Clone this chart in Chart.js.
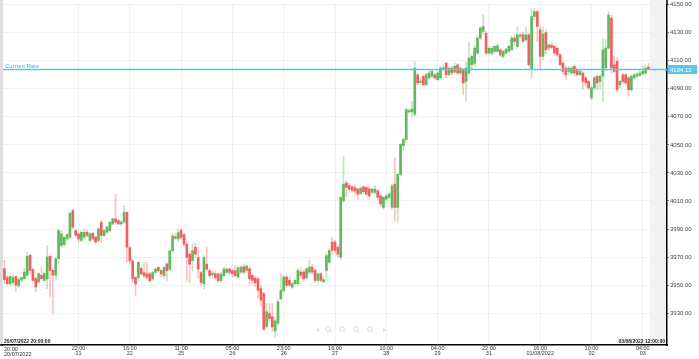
<!DOCTYPE html>
<html>
<head>
<meta charset="utf-8">
<script src="https://cdn.jsdelivr.net/npm/chart.js@4/dist/chart.umd.min.js"></script>
<style>
  html, body { margin: 0; padding: 0; background: #fff; }
  #wrap { width: 699px; height: 359px; position: relative; }
</style>
</head>
<body>
<div id="wrap"><canvas id="rate-chart" width="699" height="359"></canvas></div>
<script>
// hourly candles, 20/07/2022 20:00 .. 03/08/2022 06:00
var opens = [
  3961.7, 3955.3, 3951.1, 3952.0, 3956.0, 3949.5, 3953.5, 3954.6, 3957.0, 3971.2,
  3961.0, 3954.6, 3952.2, 3957.0, 3953.4, 3954.5, 3970.5, 3960.5, 3957.0, 3968.8,
  3978.3, 3979.0, 3983.0, 3984.2, 4003.1, 3988.9, 3986.5, 3981.8, 3984.2, 3987.7,
  3981.8, 3987.0, 3984.2, 3981.8, 3994.8, 3985.4, 3987.7, 3988.9, 3993.6, 3997.2,
  3996.0, 3993.6, 3995.0, 4001.9, 3976.8, 3967.4, 3955.5, 3955.5, 3962.0, 3959.0,
  3958.0, 3957.9, 3954.4, 3959.0, 3962.6, 3960.3, 3956.7, 3965.0, 3961.4, 3974.5,
  3984.5, 3983.0, 3989.0, 3986.0, 3979.2, 3972.0, 3967.4, 3977.0, 3969.7, 3959.0,
  3950.8, 3965.0, 3960.3, 3957.5, 3958.0, 3957.9, 3953.2, 3956.7, 3959.0, 3961.4,
  3960.3, 3960.3, 3955.7, 3959.3, 3963.0, 3960.5, 3961.6, 3956.9, 3955.0, 3954.5,
  3947.5, 3943.9, 3920.5, 3929.7, 3927.3, 3917.3, 3922.6, 3940.3, 3946.3, 3955.7,
  3953.4, 3948.6, 3951.0, 3951.0, 3959.3, 3959.3, 3955.2, 3959.3, 3962.8, 3960.5,
  3953.4, 3958.1, 3952.2, 3960.5, 3966.4, 3980.6, 3980.6, 3977.0, 3970.0, 4010.1,
  4023.0, 4021.0, 4020.0, 4019.5, 4018.4, 4015.3, 4020.0, 4019.6, 4018.4, 4016.0,
  4016.0, 4017.2, 4013.6, 4005.4, 4011.3, 4012.5, 4005.4, 4022.0, 4005.4, 4029.0,
  4049.5, 4053.9, 4073.5, 4073.5, 4071.7, 4100.0, 4094.5, 4098.9, 4093.0, 4097.7,
  4098.9, 4100.0, 4096.5, 4097.7, 4104.0, 4108.3, 4100.0, 4104.8, 4101.9, 4107.1,
  4101.2, 4103.6, 4095.3, 4101.2, 4107.1, 4108.3, 4115.4, 4126.1, 4130.8, 4129.6,
  4115.4, 4115.4, 4116.6, 4116.6, 4117.8, 4113.1, 4115.4, 4116.6, 4117.8, 4126.1,
  4120.2, 4127.3, 4128.5, 4124.9, 4128.5, 4103.6, 4141.5, 4145.0, 4132.0, 4113.0,
  4130.0, 4119.0, 4121.0, 4120.2, 4118.9, 4114.2, 4108.3, 4104.8, 4102.4, 4101.2,
  4106.0, 4103.6, 4100.0, 4101.2, 4097.7, 4095.3, 4083.5, 4090.6, 4098.9, 4095.3,
  4098.9, 4105.0, 4119.0, 4140.3, 4107.1, 4109.5, 4093.0, 4100.0, 4100.0, 4097.7,
  4089.4, 4097.7, 4098.9, 4099.5, 4100.5, 4101.2, 4105.5
];
var highs = [
  3967.6, 3957.0, 3958.0, 3957.5, 3957.0, 3955.0, 3956.0, 3962.3, 3973.5, 3972.0,
  3962.0, 3955.5, 3959.0, 3962.9, 3959.0, 3978.3, 3972.0, 3962.0, 3970.0, 3990.1,
  3988.9, 3985.0, 3987.0, 4002.0, 4004.3, 3989.5, 3987.0, 3988.5, 3990.0, 3989.0,
  3987.5, 3988.0, 3985.0, 3991.0, 3996.0, 3990.0, 3992.0, 3995.5, 3998.0, 4014.9,
  3997.0, 3996.0, 4006.7, 4002.5, 3977.5, 3968.0, 3956.0, 3967.0, 3963.0, 3966.0,
  3966.0, 3959.0, 3960.0, 3962.5, 3963.0, 3961.0, 3963.0, 3966.0, 3975.0, 3986.5,
  3987.0, 3989.5, 3990.0, 3987.0, 3981.0, 3973.0, 3979.0, 3980.0, 3977.0, 3960.0,
  3971.0, 3977.0, 3961.0, 3960.0, 3960.0, 3958.5, 3959.0, 3963.0, 3962.0, 3962.0,
  3961.0, 3964.0, 3963.5, 3963.5, 3965.0, 3964.5, 3963.0, 3958.0, 3956.0, 3956.0,
  3950.0, 3945.0, 3936.8, 3936.8, 3936.8, 3927.0, 3940.0, 3958.1, 3957.0, 3957.5,
  3956.0, 3952.0, 3954.0, 3962.0, 3962.5, 3961.0, 3962.5, 3968.0, 3965.0, 3961.5,
  3959.0, 3959.0, 3956.0, 3972.0, 3976.0, 3984.1, 3982.0, 3978.0, 4013.0, 4042.0,
  4024.5, 4022.5, 4021.0, 4021.5, 4019.0, 4020.0, 4021.0, 4020.5, 4020.0, 4019.0,
  4021.0, 4018.0, 4014.5, 4013.5, 4014.5, 4016.0, 4022.0, 4040.9, 4030.0, 4051.0,
  4055.0, 4076.0, 4075.5, 4081.0, 4109.5, 4101.0, 4098.0, 4100.0, 4101.0, 4103.5,
  4103.0, 4101.0, 4102.0, 4106.0, 4107.0, 4109.0, 4105.5, 4106.0, 4109.0, 4108.0,
  4106.0, 4105.0, 4109.0, 4123.7, 4114.0, 4121.3, 4128.0, 4134.5, 4142.7, 4131.0,
  4120.0, 4120.0, 4121.0, 4122.0, 4119.0, 4117.5, 4119.0, 4121.0, 4127.5, 4128.0,
  4134.4, 4129.5, 4130.5, 4134.4, 4129.5, 4147.0, 4147.5, 4146.0, 4134.0, 4134.0,
  4132.0, 4122.0, 4123.0, 4121.0, 4120.0, 4115.0, 4109.0, 4106.0, 4106.0, 4106.0,
  4107.0, 4104.5, 4103.0, 4102.0, 4098.5, 4096.0, 4092.0, 4099.0, 4100.0, 4100.0,
  4126.0, 4125.0, 4145.0, 4142.6, 4113.1, 4111.9, 4096.0, 4101.0, 4101.0, 4098.5,
  4100.0, 4101.0, 4101.5, 4103.0, 4106.0, 4107.0, 4108.3
];
var lows = [
  3951.1, 3949.9, 3950.0, 3950.5, 3945.1, 3948.5, 3952.5, 3954.0, 3956.0, 3958.0,
  3952.0, 3945.1, 3951.0, 3953.5, 3952.5, 3947.5, 3941.6, 3929.8, 3953.4, 3966.0,
  3977.0, 3977.0, 3982.0, 3983.0, 3990.0, 3984.0, 3980.6, 3981.0, 3983.0, 3984.5,
  3981.0, 3982.0, 3980.0, 3981.0, 3980.6, 3984.5, 3987.0, 3988.0, 3993.0, 3994.0,
  3993.0, 3992.5, 3994.0, 3966.4, 3965.0, 3952.0, 3942.5, 3953.0, 3957.0, 3955.0,
  3954.0, 3952.0, 3953.0, 3958.5, 3959.0, 3956.0, 3955.0, 3953.0, 3960.0, 3973.0,
  3982.5, 3981.0, 3983.0, 3978.0, 3953.0, 3952.0, 3960.0, 3970.0, 3955.0, 3950.0,
  3947.3, 3960.0, 3955.0, 3955.0, 3954.0, 3952.0, 3952.0, 3956.0, 3958.5, 3957.0,
  3956.0, 3955.5, 3955.0, 3958.0, 3958.0, 3959.0, 3950.0, 3951.0, 3949.0, 3940.5,
  3935.0, 3917.5, 3919.5, 3924.0, 3917.0, 3913.1, 3921.0, 3939.0, 3945.0, 3948.0,
  3949.0, 3947.5, 3950.0, 3950.0, 3955.0, 3953.0, 3954.0, 3958.0, 3958.0, 3952.0,
  3952.0, 3952.5, 3951.5, 3953.4, 3965.0, 3972.0, 3973.0, 3969.9, 3968.0, 4009.0,
  4013.0, 4017.0, 4016.0, 4015.0, 4011.0, 4014.5, 4015.0, 4014.0, 4012.5, 4015.5,
  4015.0, 4011.0, 4006.0, 4004.0, 4010.0, 4012.0, 4004.0, 3995.9, 3995.0, 4028.0,
  4046.0, 4052.0, 4072.5, 4070.0, 4070.5, 4093.0, 4093.0, 4092.0, 4092.0, 4096.5,
  4098.0, 4097.0, 4096.0, 4097.0, 4103.0, 4097.7, 4099.0, 4100.0, 4101.0, 4100.0,
  4100.0, 4085.9, 4081.0, 4100.0, 4104.0, 4106.0, 4114.0, 4125.0, 4129.0, 4114.0,
  4114.5, 4114.0, 4115.0, 4115.5, 4113.0, 4112.0, 4114.5, 4115.5, 4117.0, 4121.0,
  4119.0, 4126.0, 4123.0, 4124.0, 4106.0, 4097.7, 4139.0, 4124.0, 4104.0, 4111.0,
  4115.0, 4117.0, 4118.0, 4114.0, 4113.0, 4106.0, 4100.0, 4096.5, 4101.0, 4100.0,
  4098.9, 4099.0, 4099.0, 4089.4, 4091.0, 4089.4, 4082.0, 4089.0, 4089.4, 4089.4,
  4081.0, 4103.0, 4118.0, 4101.2, 4101.0, 4088.0, 4090.6, 4094.0, 4093.0, 4084.7,
  4088.0, 4096.5, 4098.0, 4098.9, 4100.0, 4100.0, 4103.5
];
var closes = [
  3953.9, 3951.1, 3956.3, 3955.5, 3949.9, 3953.9, 3955.3, 3959.3, 3970.5, 3960.5,
  3953.4, 3948.7, 3958.2, 3954.6, 3958.2, 3970.0, 3960.5, 3957.0, 3968.8, 3988.9,
  3986.5, 3984.0, 3986.0, 4001.2, 3991.3, 3985.4, 3983.0, 3987.7, 3987.7, 3985.4,
  3986.5, 3983.0, 3980.6, 3990.1, 3985.4, 3988.9, 3991.3, 3994.8, 3997.2, 3994.8,
  3993.6, 3995.0, 4001.9, 3977.1, 3967.4, 3954.4, 3950.8, 3966.2, 3958.0, 3956.7,
  3955.5, 3953.2, 3959.0, 3961.4, 3960.3, 3957.9, 3962.6, 3960.3, 3974.5, 3985.1,
  3983.5, 3987.5, 3984.0, 3979.2, 3969.7, 3965.0, 3974.5, 3972.0, 3961.4, 3952.0,
  3969.7, 3961.4, 3956.7, 3958.5, 3955.5, 3953.2, 3957.9, 3961.4, 3961.4, 3959.0,
  3957.9, 3956.7, 3962.3, 3962.8, 3959.3, 3963.5, 3954.5, 3953.4, 3951.5, 3946.3,
  3939.2, 3918.5, 3930.9, 3926.2, 3920.2, 3924.6, 3938.0, 3946.3, 3955.7, 3949.8,
  3950.0, 3951.0, 3953.4, 3960.5, 3957.0, 3954.5, 3961.6, 3962.8, 3959.3, 3953.4,
  3958.1, 3953.4, 3953.9, 3971.1, 3974.7, 3974.7, 3974.7, 3972.0, 4012.5, 4022.0,
  4019.6, 4018.4, 4017.7, 4016.9, 4014.9, 4019.1, 4016.7, 4014.9, 4013.6, 4018.4,
  4018.4, 4012.5, 4007.8, 4012.5, 4013.6, 4014.9, 4020.8, 4005.4, 4029.0, 4050.4,
  4053.9, 4075.2, 4074.5, 4075.5, 4104.8, 4094.1, 4095.5, 4093.0, 4100.0, 4101.2,
  4102.4, 4097.7, 4101.2, 4104.8, 4105.0, 4100.0, 4104.8, 4101.2, 4106.0, 4101.2,
  4104.8, 4094.1, 4104.8, 4111.9, 4113.1, 4119.0, 4126.1, 4133.2, 4134.4, 4115.4,
  4118.9, 4118.9, 4120.2, 4120.6, 4114.2, 4116.6, 4118.3, 4120.2, 4126.1, 4123.7,
  4128.5, 4128.5, 4123.7, 4128.5, 4107.1, 4141.5, 4145.0, 4134.4, 4113.0, 4129.0,
  4117.8, 4121.3, 4119.5, 4115.4, 4114.2, 4107.1, 4102.4, 4100.0, 4104.8, 4104.8,
  4101.2, 4100.0, 4102.4, 4095.3, 4094.1, 4090.6, 4090.6, 4097.7, 4094.1, 4098.9,
  4117.8, 4119.0, 4142.6, 4104.8, 4102.4, 4089.4, 4095.3, 4095.3, 4094.1, 4089.4,
  4098.9, 4100.0, 4100.5, 4101.2, 4102.4, 4104.8, 4104.1
];

var currentRate = 4104.12;

// x axis labels sit on candle indexes
var xTickIdx  = [26, 44, 62, 80, 98, 116, 134, 152, 170, 188, 206, 224];
var xTickTime = ['22:00', '16:00', '11:00', '05:00', '23:00', '16:00', '10:00', '04:00', '22:00', '16:00', '10:00', '04:00'];
var xTickDate = ['21', '22', '25', '26', '26', '27', '28', '29', '31', '01/08/2022', '02', '03'];
var firstLabel = ['20:00', '20/07/2022'];
var startStamp = '20/07/2022 20:00:00';
var endStamp = '03/08/2022 12:00:00';

var yTicks = [3930, 3950, 3970, 3990, 4010, 4030, 4050, 4070, 4090, 4110, 4130, 4150];

var upBody = 'rgb(96,186,92)';
var downBody = 'rgb(240,96,96)';
var upWick = 'rgba(96,186,92,0.38)';
var downWick = 'rgba(240,96,96,0.38)';
var rateColor = '#5cc6ea';

var isUp = opens.map(function(o, i) { return closes[i] >= o; });

var decor = {
    id: 'decor',
    beforeDraw: function(chart) {
        var ctx = chart.ctx, a = chart.chartArea, xs = chart.scales.x;
        ctx.save();
        ctx.fillStyle = '#fff';
        ctx.fillRect(0, 0, chart.width, chart.height);
        // left frame band
        ctx.fillStyle = '#dedede';
        ctx.fillRect(0, 0, a.left, a.bottom);
        // future area on the right
        var fx = xs.getPixelForValue(opens.length - 0.5);
        ctx.beginPath();
        ctx.rect(fx, 0, a.right - fx, a.bottom);
        ctx.clip();
        ctx.fillStyle = '#f5f5f5';
        ctx.fillRect(fx, 0, a.right - fx, a.bottom);
        ctx.strokeStyle = '#e8e8e8';
        ctx.lineWidth = 0.6;
        ctx.beginPath();
        for (var yy = -20; yy < a.bottom + 20; yy += 3) {
            ctx.moveTo(fx, yy + 18);
            ctx.lineTo(a.right, yy);
        }
        ctx.stroke();
        ctx.restore();
    },
    afterDraw: function(chart) {
        var ctx = chart.ctx, a = chart.chartArea, ys = chart.scales.y;
        var y = Math.round(ys.getPixelForValue(currentRate)) + 0.5;
        ctx.save();

        // right axis line runs to the top edge
        ctx.strokeStyle = '#000';
        ctx.lineWidth = 1.5;
        ctx.beginPath();
        ctx.moveTo(a.right, 0);
        ctx.lineTo(a.right, a.top);
        ctx.moveTo(0, a.bottom);
        ctx.lineTo(a.left, a.bottom);
        ctx.stroke();

        // current rate line
        ctx.strokeStyle = rateColor;
        ctx.lineWidth = 1.3;
        ctx.beginPath();
        ctx.moveTo(a.left, y);
        ctx.lineTo(a.right, y);
        ctx.stroke();

        ctx.font = '6px "Liberation Sans"';
        ctx.fillStyle = '#3ab8e2';
        ctx.textBaseline = 'alphabetic';
        ctx.textAlign = 'left';
        ctx.fillText('Current Rate', 5, y - 2);

        ctx.fillStyle = rateColor;
        ctx.fillRect(a.right + 1, y - 4.5, chart.width - a.right - 3, 9);
        ctx.fillStyle = '#fff';
        ctx.textBaseline = 'middle';
        ctx.fillText(currentRate.toFixed(2), a.right + 3, y + 0.5);

        // range stamps above the axis
        ctx.font = 'bold 5px "Liberation Sans"';
        ctx.textBaseline = 'bottom';
        ctx.fillStyle = '#222';
        ctx.textAlign = 'left';
        ctx.fillText(startStamp, a.left + 1, a.bottom - 0.5);
        ctx.textAlign = 'right';
        ctx.fillText(endStamp, a.right - 2, a.bottom - 0.5);

        // first time label is left aligned
        ctx.font = '5.5px "Liberation Sans"';
        ctx.fillStyle = '#333';
        ctx.textAlign = 'left';
        ctx.textBaseline = 'middle';
        ctx.fillText(firstLabel[0], a.left + 1, 349.3);
        ctx.fillText(firstLabel[1], a.left + 1, 354.3);

        // faint navigation icons
        ctx.strokeStyle = '#dcdcdc';
        ctx.fillStyle = '#dcdcdc';
        ctx.lineWidth = 1;
        ctx.beginPath();
        ctx.moveTo(316, 330); ctx.lineTo(319, 328); ctx.lineTo(319, 332); ctx.closePath();
        ctx.moveTo(386, 330); ctx.lineTo(383, 328); ctx.lineTo(383, 332); ctx.closePath();
        ctx.fill();
        [328, 342, 356, 370].forEach(function(cx) {
            ctx.beginPath();
            ctx.arc(cx, 329, 2.3, 0, Math.PI * 2);
            ctx.moveTo(cx + 1.7, 330.7);
            ctx.lineTo(cx + 3.5, 332.5);
            ctx.stroke();
        });
        ctx.restore();
    }
};

var ctx = document.getElementById('rate-chart').getContext('2d');
var chart = new Chart(ctx, {
    type: 'bar',
    data: {
        datasets: [{
            label: 'Body',
            data: opens.map(function(o, i) { return { x: i, y: [o, closes[i]] }; }),
            backgroundColor: isUp.map(function(u) { return u ? upBody : downBody; }),
            barThickness: 2,
            minBarLength: 1,
            grouped: false,
            order: 1
        }, {
            label: 'Wick',
            data: lows.map(function(l, i) { return { x: i, y: [l, highs[i]] }; }),
            backgroundColor: isUp.map(function(u) { return u ? upWick : downWick; }),
            barThickness: 1,
            grouped: false,
            order: 2
        }]
    },
    options: {
        responsive: false,
        animation: false,
        layout: { padding: { left: 3, right: 0, top: 0, bottom: 0 } },
        plugins: {
            legend: { display: false },
            tooltip: { enabled: false }
        },
        scales: {
            x: {
                type: 'linear',
                offset: false,
                min: -0.5,
                max: 232.5,
                afterBuildTicks: function(scale) {
                    scale.ticks = xTickIdx.map(function(v) { return { value: v }; });
                },
                afterFit: function(scale) { scale.height = 14; },
                ticks: {
                    autoSkip: false,
                    maxRotation: 0,
                    padding: 1,
                    color: '#333',
                    font: { family: 'Liberation Sans', size: 5.5, lineHeight: 0.95 },
                    callback: function(value, index) {
                        return [xTickTime[index], xTickDate[index]];
                    }
                },
                grid: { color: '#f1f1f1', drawTicks: false, offset: false },
                border: { color: '#000', width: 1.5 }
            },
            y: {
                position: 'right',
                min: 3907.3,
                max: 4150,
                afterBuildTicks: function(scale) {
                    scale.ticks = yTicks.map(function(v) { return { value: v }; });
                },
                afterFit: function(scale) { scale.width = 32; },
                ticks: {
                    padding: 1,
                    color: '#444',
                    font: { family: 'Liberation Sans', size: 6 },
                    callback: function(value) { return value.toFixed(2); }
                },
                grid: { color: '#f1f1f1', tickLength: 2, tickColor: '#777' },
                border: { color: '#000', width: 1.5 }
            }
        }
    },
    plugins: [decor]
});
</script>
</body>
</html>
